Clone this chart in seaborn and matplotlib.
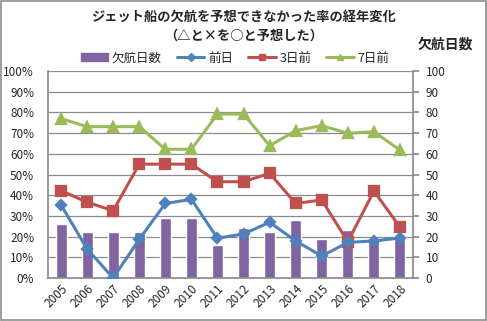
import matplotlib
matplotlib.use("Agg")
import matplotlib.pyplot as plt
import seaborn as sns
import pandas as pd
from matplotlib.patches import Rectangle
from matplotlib.lines import Line2D
from matplotlib.ticker import FuncFormatter, MultipleLocator

years = ["2005", "2006", "2007", "2008", "2009", "2010", "2011",
         "2012", "2013", "2014", "2015", "2016", "2017", "2018"]
cancel_days = [26, 22, 22, 22, 29, 29, 16, 24, 22, 28, 19, 23, 18, 21]
prev_day = [35.3, 14.0, 0.0, 18.7, 36.0, 38.0, 19.2, 21.3, 26.9, 17.9, 10.6, 17.2, 17.9, 19.3]
three_days = [42.2, 36.6, 32.5, 55.0, 55.0, 55.0, 46.5, 46.5, 50.6, 36.0, 37.7, 17.5, 42.0, 24.6]
seven_days = [77.0, 73.1, 73.1, 73.1, 62.2, 62.2, 79.2, 79.2, 63.9, 71.2, 73.6, 69.9, 70.7, 61.8]

title = "ジェット船の欠航を予想できなかった率の経年変化\n（△と×を○と予想した）"
series_names = ["欠航日数", "前日", "3日前", "7日前"]

sns.set_theme(style="white")
plt.rcParams["font.family"] = ["Noto Sans CJK JP", "DejaVu Sans"]

purple = "#8064A2"
blue = "#4F81BD"
red = "#C0504D"
green = "#9BBB59"
grid_c = "#8C8C8C"

df = pd.DataFrame({"year": years, "days": cancel_days,
                   "prev": prev_day, "three": three_days, "seven": seven_days})

fig = plt.figure(figsize=(4.87, 3.21), dpi=100)
ax = fig.add_axes([48 / 487, 1 - 278 / 321, 365 / 487, 207 / 321])

# bars (days) on the base axes
sns.barplot(data=df, x="year", y="days", color=purple, saturation=1,
            width=0.42, ax=ax, zorder=2)
ax.set_ylim(0, 100)
ax.yaxis.set_major_locator(MultipleLocator(10))
ax.grid(axis="y", color=grid_c, linewidth=0.9, zorder=0)
ax.set_axisbelow(True)

# rates on the twin axis
ax2 = ax.twinx()
for col, c, m, ms in [("seven", green, "^", 7), ("three", red, "s", 6.5),
                      ("prev", blue, "D", 5)]:
    sns.pointplot(data=df, x="year", y=col, color=c, markers=m,
                  errorbar=None, ax=ax2, markersize=ms, linewidth=2.2)
ax2.set_ylim(0, 100)
ax2.yaxis.set_major_locator(MultipleLocator(10))
ax2.yaxis.set_major_formatter(FuncFormatter(lambda v, p: f"{int(round(v))}%"))
ax.set_xlim(-0.5, 13.5)
ax2.set_xlim(-0.5, 13.5)

# day counts on the right, percentages on the left
ax.yaxis.tick_right()
ax2.yaxis.tick_left()

for a in (ax, ax2):
    a.set_xlabel("")
    a.set_ylabel("")
    for s in a.spines.values():
        s.set_visible(False)
for side in ("right", "left", "bottom"):
    ax.spines[side].set_visible(True)
    ax.spines[side].set_color(grid_c)

ax.tick_params(axis="y", labelsize=8.5, pad=5, length=4, color=grid_c,
               direction="out", right=True, left=False,
               labelright=True, labelleft=False)
ax2.tick_params(axis="y", labelsize=8.5, pad=10, length=0, left=True, right=False,
                labelleft=True, labelright=False)
ax.tick_params(axis="x", labelsize=8.5, length=0, pad=3)
ax2.tick_params(axis="x", length=0)
for lbl in ax.get_xticklabels():
    lbl.set_rotation(45)
    lbl.set_ha("right")
    lbl.set_rotation_mode("anchor")

fig.text(0.5, 1 - 26 / 321, title, ha="center", va="center",
         fontsize=9.5, fontweight="bold", linespacing=1.45)
fig.text(445 / 487, 1 - 45 / 321, "欠航日数", ha="center", va="center",
         fontsize=10, fontweight="bold")

handles = [
    Rectangle((0, 0), 1, 1, color=purple),
    Line2D([], [], color=blue, marker="D", markersize=4, linewidth=2.2),
    Line2D([], [], color=red, marker="s", markersize=5, linewidth=2.2),
    Line2D([], [], color=green, marker="^", markersize=5, linewidth=2.2),
]
fig.legend(handles, series_names, loc="center", ncol=4,
           bbox_to_anchor=(235 / 487, 1 - 58 / 321), frameon=False, fontsize=9,
           handlelength=2.2, handletextpad=0.3, columnspacing=1.2,
           handleheight=0.6)

fig.patches.append(Rectangle((0.002, 0.003), 0.995, 0.994, transform=fig.transFigure,
                             fill=False, edgecolor="#8C8C8C", linewidth=1.2))

fig.savefig("out.png", dpi=100)
